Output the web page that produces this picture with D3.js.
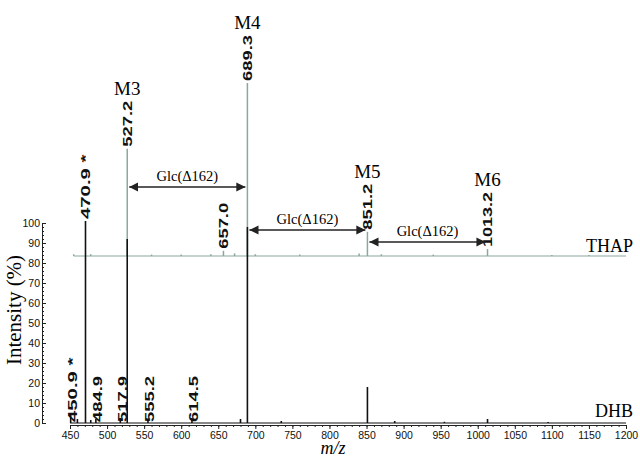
<!DOCTYPE html>
<html><head><meta charset="utf-8">
<script src="https://cdn.jsdelivr.net/npm/d3@7"></script>
<style>body{margin:0;background:#fff}</style>
</head><body><svg id="c" width="640" height="459"></svg>
<script>
// DHB spectrum (% intensity)
const dhbMz = [450.9, 460, 470.9, 478, 484.9, 517.9, 527.2, 555.2, 614.5, 680, 689.3, 735, 851.2, 888, 955, 1013.2, 1095];
const dhbInt = [5, 2, 101, 1.5, 2, 2.5, 92, 2, 2.5, 2, 98, 1, 18, 1, 0.6, 2, 0.5];
// THAP spectrum (relative %, drawn on offset baseline)
const thapMz = [455, 478, 527.2, 560, 600, 640, 657.0, 672, 689.3, 700, 760, 840, 851.2, 870, 940, 1013.2, 1100, 1150];
const thapInt = [1, 1, 62, 0.8, 0.8, 1, 3, 1.5, 100, 1, 0.8, 1.5, 14, 1, 0.8, 4, 0.6, 0.6];
const xTicks = d3.range(450, 1201, 50);
const yTicks = d3.range(0, 101, 10);
const peakLabels = [
  {mz: 450.9, s: "dhb", t: "450.9 *"}, {mz: 484.9, s: "dhb", t: "484.9"},
  {mz: 517.9, s: "dhb", t: "517.9"}, {mz: 555.2, s: "dhb", t: "555.2"},
  {mz: 614.5, s: "dhb", t: "614.5"}, {mz: 470.9, s: "dhb", t: "470.9 *"},
  {mz: 527.2, s: "thap", t: "527.2"}, {mz: 689.3, s: "thap", t: "689.3"},
  {mz: 657.0, s: "thap", t: "657.0"}, {mz: 851.2, s: "thap", t: "851.2"},
  {mz: 1013.2, s: "thap", t: "1013.2"}];
const species = [{mz: 527.2, t: "M3"}, {mz: 689.3, t: "M4"}, {mz: 851.2, t: "M5"}, {mz: 1013.2, t: "M6"}];
const arrows = [{a: 527.2, b: 689.3, y: 187}, {a: 689.3, b: 851.2, y: 230}, {a: 851.2, b: 1013.2, y: 242}];

const svg = d3.select("#c");
const x = d3.scaleLinear().domain([450, 1200]).range([70, 626]);
const y = d3.scaleLinear().domain([0, 100]).range([423, 223]);
const yT = d3.scaleLinear().domain([0, 100]).range([256, 83]);
const thapColor = "#8aa8a0";
const labFont = "Liberation Sans, Arial";

svg.append("defs").append("marker").attr("id", "ah").attr("viewBox", "0 0 10 10")
  .attr("refX", 10).attr("refY", 5).attr("markerWidth", 7).attr("markerHeight", 7)
  .attr("orient", "auto-start-reverse")
  .append("path").attr("d", "M0,0L10,5L0,10z").attr("fill", "#222");

// axes
svg.append("g").attr("transform", "translate(0,425)")
  .call(d3.axisBottom(x).tickValues(xTicks).tickSize(4).tickFormat(d3.format("d")));
svg.append("g").attr("transform", "translate(0,425)")
  .call(d3.axisBottom(x).tickValues(d3.range(450, 1201, 10)).tickSize(2).tickFormat(""));
const ya = svg.append("g").attr("transform", "translate(42,0)")
  .call(d3.axisRight(y).tickValues(yTicks).tickSize(4));
svg.append("g").attr("transform", "translate(42,0)")
  .call(d3.axisRight(y).tickValues(d3.range(0, 101, 2)).tickSize(2).tickFormat(""));
ya.selectAll("text").attr("x", -2).attr("text-anchor", "end");
svg.selectAll(".domain").attr("stroke", "#222");
svg.selectAll(".tick line").attr("stroke", "#222");
svg.selectAll(".tick text").attr("font-family", "Liberation Sans, Arial").attr("font-size", 10.5).attr("fill", "#111");

// THAP
svg.append("line").attr("x1", x(455)).attr("x2", x(1200)).attr("y1", yT(0)).attr("y2", yT(0))
  .attr("stroke", thapColor).attr("stroke-width", 1.2);
svg.selectAll(".tp").data(thapMz).join("line")
  .attr("x1", d => x(d)).attr("x2", d => x(d)).attr("y1", yT(0))
  .attr("y2", (d, i) => yT(thapInt[i])).attr("stroke", thapColor).attr("stroke-width", 1.5);
// DHB
svg.append("line").attr("x1", x(450)).attr("x2", x(1200)).attr("y1", y(0)).attr("y2", y(0))
  .attr("stroke", "#111");
svg.selectAll(".dp").data(dhbMz).join("line")
  .attr("x1", d => x(d)).attr("x2", d => x(d)).attr("y1", y(0))
  .attr("y2", (d, i) => y(dhbInt[i])).attr("stroke", "#111").attr("stroke-width", 1.6);

// peak labels (tall, condensed look)
const labelTop = {};
peakLabels.forEach(p => {
  const v = p.s === "dhb" ? dhbInt[dhbMz.indexOf(p.mz)] : thapInt[thapMz.indexOf(p.mz)];
  const top = p.s === "dhb" ? y(v) : yT(v);
  const small = p.s === "dhb" && v < 10;
  const px = small ? x(p.mz) + 2 : x(p.mz);
  const py = small ? y(0) - 1 : top - 2;
  const len = p.t.length * 9.2;
  svg.append("text").attr("transform", `translate(${px + 4.5},${py}) rotate(-90)`)
    .attr("font-family", labFont).attr("font-weight", "bold").attr("font-size", 12)
    .attr("textLength", len).attr("lengthAdjust", "spacingAndGlyphs")
    .attr("fill", "#111").text(p.t);
  labelTop[p.mz] = py - len;
});

// species
svg.selectAll(".sp").data(species).join("text")
  .attr("x", d => x(d.mz)).attr("y", d => labelTop[d.mz] - 6)
  .attr("text-anchor", "middle").attr("font-family", "Liberation Serif, Times New Roman")
  .attr("font-size", 19).text(d => d.t);

// arrows
arrows.forEach(a => {
  svg.append("line").attr("x1", x(a.a) + 2).attr("x2", x(a.b) - 2).attr("y1", a.y).attr("y2", a.y)
    .attr("stroke", "#222").attr("stroke-width", 1.3)
    .attr("marker-start", "url(#ah)").attr("marker-end", "url(#ah)");
  svg.append("text").attr("x", (x(a.a) + x(a.b)) / 2).attr("y", a.y - 6).attr("text-anchor", "middle")
    .attr("font-family", "Liberation Serif, Times New Roman").attr("font-size", 14.5).text("Glc(Δ162)");
});

svg.append("text").attr("x", 633).attr("y", 252).attr("text-anchor", "end")
  .attr("font-family", "Liberation Serif, Times New Roman").attr("font-size", 18).text("THAP");
svg.append("text").attr("x", 633).attr("y", 417).attr("text-anchor", "end")
  .attr("font-family", "Liberation Serif, Times New Roman").attr("font-size", 18).text("DHB");
svg.append("text").attr("transform", "translate(21,310) rotate(-90)").attr("text-anchor", "middle")
  .attr("font-family", "Liberation Serif, Times New Roman").attr("font-size", 21).text("Intensity (%)");
svg.append("text").attr("x", 333).attr("y", 454).attr("text-anchor", "middle")
  .attr("font-family", "Liberation Serif, Times New Roman").attr("font-style", "italic")
  .attr("font-size", 18).text("m/z");
</script></body></html>
